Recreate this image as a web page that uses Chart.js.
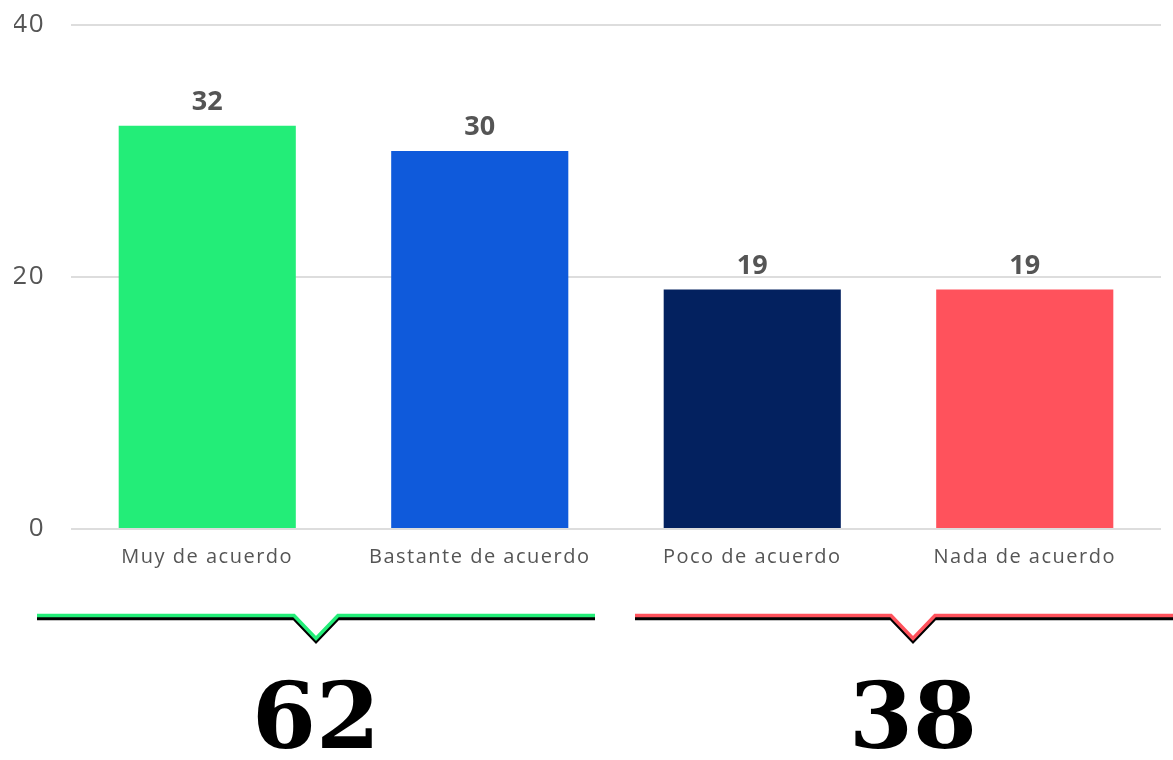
<!DOCTYPE html>
<html>
<head>
<meta charset="utf-8">
<script src="https://cdn.jsdelivr.net/npm/chart.js@4/dist/chart.umd.min.js"></script>
<style>
  html, body { margin: 0; padding: 0; background: #fff; }
  #wrap { width: 1173px; height: 760px; position: relative; }
</style>
</head>
<body>
<div id="wrap"><canvas id="chart"></canvas></div>
<script>
// данные
const categories = ['Muy de acuerdo', 'Bastante de acuerdo', 'Poco de acuerdo', 'Nada de acuerdo'];
const values = [32, 30, 19, 19];
const barColors = ['#23ED78', '#0F5ADB', '#03215F', '#FF525C'];
const yTicks = [0, 20, 40];
// группы для скобок снизу (индексы категорий)
const groups = [[0, 1], [2, 3]];
const groupColors = ['#23ED78', '#FF525C'];

// разрядка подписей по оси X, как в оригинале
const spacing = {
  id: 'spacing',
  beforeDraw(chart) { chart.ctx.letterSpacing = '1.5px'; },
  beforeDatasetsDraw(chart) { chart.ctx.letterSpacing = '0px'; }
};

// подписи значений над столбцами
const valueLabels = {
  id: 'valueLabels',
  afterDatasetsDraw(chart) {
    const ctx = chart.ctx;
    const meta = chart.getDatasetMeta(0);
    ctx.save();
    ctx.letterSpacing = '0px';
    ctx.font = 'bold 27px "Open Sans"';
    ctx.fillStyle = '#555555';
    ctx.textAlign = 'center';
    ctx.textBaseline = 'alphabetic';
    meta.data.forEach((bar, i) => {
      ctx.fillText(values[i], bar.x, bar.y - 16);
    });
    ctx.restore();
  }
};

// скобки и суммы под графиком
const brackets = {
  id: 'brackets',
  afterDraw(chart) {
    const ctx = chart.ctx;
    const x = chart.scales.x;
    const mid = (x.getPixelForValue(1) + x.getPixelForValue(2)) / 2;
    const spans = [[37, mid - 21], [mid + 19, chart.width]];
    const notchShift = [0, 9];
    const lineY = 617;
    groups.forEach((g, gi) => {
      const [x0, x1] = spans[gi];
      const cx = (x0 + x1) / 2 + notchShift[gi];
      const draw = (dy, color) => {
        ctx.beginPath();
        ctx.moveTo(x0, lineY + dy);
        ctx.lineTo(cx - 22, lineY + dy);
        ctx.lineTo(cx, lineY + 23 + dy);
        ctx.lineTo(cx + 22, lineY + dy);
        ctx.lineTo(x1, lineY + dy);
        ctx.strokeStyle = color;
        ctx.lineWidth = 3.5;
        ctx.lineJoin = 'miter';
        ctx.stroke();
      };
      ctx.save();
      ctx.letterSpacing = '0px';
      draw(1.5, '#000000');
      draw(-1.5, groupColors[gi]);
      const total = g.reduce((s, i) => s + values[i], 0);
      ctx.font = 'bold 92px "DejaVu Serif"';
      ctx.fillStyle = '#000000';
      ctx.textAlign = 'center';
      ctx.textBaseline = 'alphabetic';
      ctx.fillText(total, cx, 748);
      ctx.restore();
    });
  }
};

new Chart(document.getElementById('chart'), {
  type: 'bar',
  data: {
    labels: categories,
    datasets: [{
      data: values,
      backgroundColor: barColors,
      categoryPercentage: 1,
      barPercentage: 0.65
    }]
  },
  options: {
    responsive: true,
    maintainAspectRatio: false,
    animation: false,
    layout: { padding: { top: 0, left: 14, right: 12, bottom: 183 } },
    plugins: { legend: { display: false }, tooltip: { enabled: false } },
    scales: {
      x: {
        grid: { display: false },
        border: { display: false },
        ticks: { color: '#555555', font: { family: 'Open Sans', size: 20 }, padding: 8 }
      },
      y: {
        min: 0,
        max: 40,
        afterBuildTicks: axis => { axis.ticks = yTicks.map(v => ({ value: v })); },
        afterFit: axis => { axis.width = 57; axis.paddingTop = 25; },
        grid: { color: '#dddddd', lineWidth: 2, drawTicks: false },
        border: { display: false },
        ticks: { color: '#555555', font: { family: 'Open Sans', size: 26, lineHeight: 0.8 }, padding: 26 }
      }
    }
  },
  plugins: [spacing, valueLabels, brackets]
});
</script>
</body>
</html>
